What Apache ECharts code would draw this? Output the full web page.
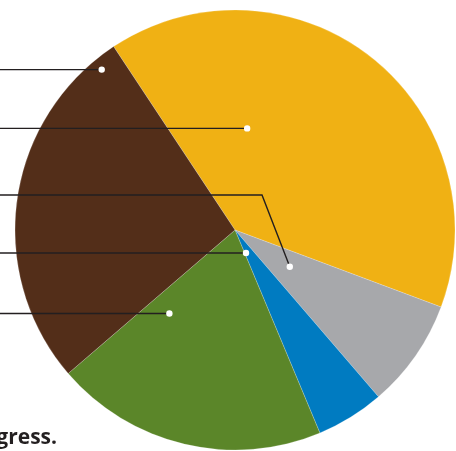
<!DOCTYPE html>
<html>
<head>
<meta charset="utf-8">
<script src="https://cdn.jsdelivr.net/npm/echarts@6/dist/echarts.min.js"></script>
<style>
html,body{margin:0;padding:0;background:#fff;}
#c{width:456px;height:451px;}
</style>
</head>
<body>
<div id="c"></div>
<script>
// Data (slice order clockwise from the top-left boundary)
var categories = ['Segment A', 'Segment B', 'Segment C', 'Segment D', 'Segment E'];
var values = [40, 8, 5, 20, 27];
var colors = ['#F0B114', '#A7A8AB', '#007BC1', '#5B8629', '#532E19'];
var footnote = 'gress.';

// Leader-line anchor placement inside each slice (fraction of slice angle, fraction of radius)
var anchors = [
  {t: 0.28, rf: 0.465, lineY: 129},
  {t: 0.465, rf: 0.30, lineY: 195, elbowX: 262},
  {t: 0.84, rf: 0.116, lineY: 254},
  {t: 0.845, rf: 0.483, lineY: 314},
  {t: 0.936, rf: 0.948, lineY: 69}
];

var chart = echarts.init(document.getElementById('c'), null, {renderer: 'canvas'});
chart.setOption({
  animation: false,
  backgroundColor: '#fff',
  series: [{
    type: 'pie',
    center: [235, 230],
    radius: 220,
    startAngle: 123.5,
    clockwise: true,
    silent: true,
    label: {show: false},
    labelLine: {show: false},
    itemStyle: {borderColor: 'rgba(255,255,255,0.5)', borderWidth: 0.4},
    data: categories.map(function (c, i) {
      return {name: c, value: values[i], itemStyle: {color: colors[i]}};
    })
  }]
});

var data = chart.getModel().getSeriesByIndex(0).getData();
var graphics = [];
anchors.forEach(function (a, i) {
  var L = data.getItemLayout(i);
  var ang = L.startAngle + a.t * (L.endAngle - L.startAngle);
  var px = L.cx + L.r * a.rf * Math.cos(ang);
  var py = L.cy + L.r * a.rf * Math.sin(ang);
  var pts;
  if (a.elbowX != null) {
    pts = [[0, a.lineY], [a.elbowX, a.lineY], [px, py]];
  } else {
    pts = [[0, py], [px, py]];
  }
  graphics.push({
    type: 'polyline', z: 10,
    shape: {points: pts},
    style: {stroke: '#231F20', lineWidth: 1.4, fill: null}
  });
  graphics.push({
    type: 'circle', z: 11,
    shape: {cx: px, cy: py, r: 3.2},
    style: {fill: '#fff'}
  });
});
graphics.push({
  type: 'text', z: 12,
  style: {
    x: 57, y: 438, text: footnote,
    align: 'right', verticalAlign: 'middle',
    fontSize: 21, fontWeight: 'bold', fontFamily: '"Open Sans", sans-serif',
    fill: '#231F20'
  }
});
chart.setOption({graphic: graphics});
</script>
</body>
</html>
